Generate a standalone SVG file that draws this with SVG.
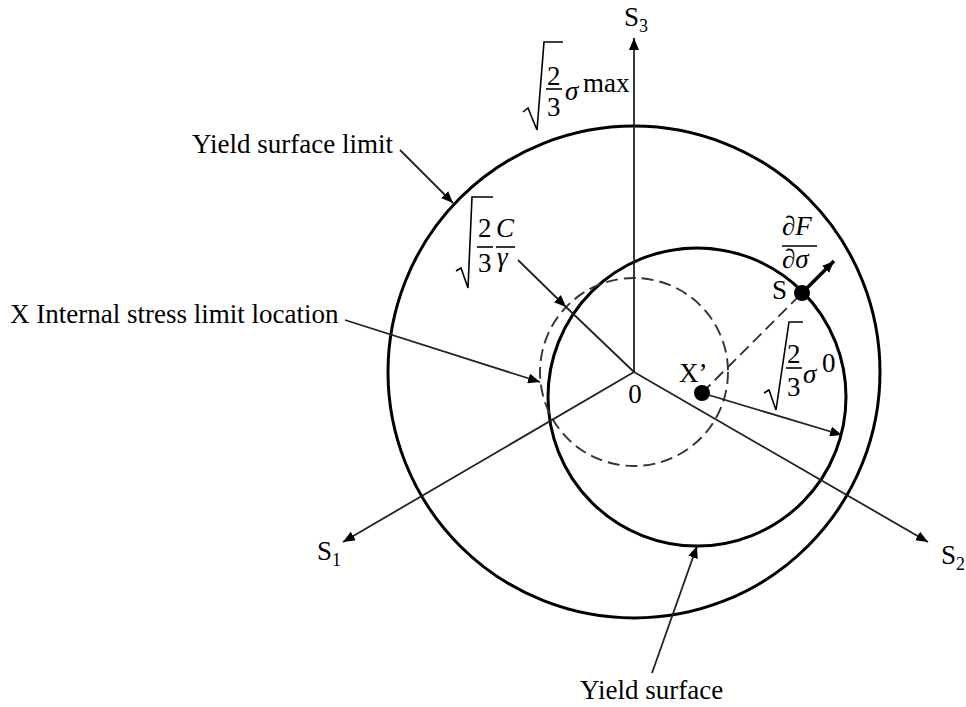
<svg xmlns="http://www.w3.org/2000/svg" width="966" height="707" viewBox="0 0 966 707">
<style>
text{font-family:"Liberation Serif","Times New Roman",serif;font-size:27px;fill:#000}
.it{font-style:italic}
.sub{font-size:18px}
.ln{stroke:#222;stroke-width:1.8;fill:none}
.thick{stroke:#000;stroke-width:3;fill:none}
.dash{stroke:#333;stroke-width:1.9;fill:none;stroke-dasharray:12 6}
.bar{stroke:#000;stroke-width:1.6}
</style>
<defs>
<marker id="ah" viewBox="0 0 12 10" refX="12" refY="5" markerWidth="12" markerHeight="10" markerUnits="userSpaceOnUse" orient="auto">
<path d="M0,0 L12,5 L0,10 z" fill="#000"/>
</marker>
</defs>
<rect width="966" height="707" fill="#fff"/>

<g id="outer-circle"><circle cx="634" cy="372" r="246" class="thick"/></g>
<g id="inner-circle"><circle cx="697" cy="397" r="149" class="thick"/></g>
<g id="dashed-circle"><circle cx="634" cy="372" r="94" class="dash"/></g>

<g id="connectors">
<line x1="634" y1="372" x2="634" y2="38" class="ln" marker-end="url(#ah)"/>
<line x1="634" y1="372" x2="343" y2="542" class="ln" marker-end="url(#ah)"/>
<line x1="634" y1="372" x2="928" y2="542" class="ln" marker-end="url(#ah)"/>
<line x1="400" y1="150" x2="453" y2="203" class="ln" marker-end="url(#ah)"/>
<line x1="345" y1="320" x2="540" y2="382" class="ln" marker-end="url(#ah)"/>
<line x1="518" y1="260" x2="566" y2="307" class="ln" marker-end="url(#ah)"/>
<line x1="566" y1="307" x2="634" y2="372" class="ln"/>
<line x1="652" y1="673" x2="697" y2="546" class="ln" marker-end="url(#ah)"/>
<line x1="702" y1="393" x2="842" y2="435" class="ln" marker-end="url(#ah)"/>
<line x1="702" y1="393" x2="802" y2="293" class="dash"/>
<line x1="802" y1="293" x2="834" y2="261" stroke="#000" stroke-width="3.5" marker-end="url(#ah)"/>
</g>

<g id="point-X">
<circle cx="702" cy="393" r="8" fill="#000"/>
<text x="679" y="382">X’</text>
</g>
<g id="point-S">
<circle cx="802" cy="293" r="8" fill="#000"/>
<text x="772" y="299">S</text>
</g>
<g id="origin"><text x="635" y="403" text-anchor="middle">0</text></g>

<g id="label-S3"><text x="624" y="26">S<tspan class="sub" dy="6">3</tspan></text></g>
<g id="label-S1"><text x="317" y="560">S<tspan class="sub" dy="6">1</tspan></text></g>
<g id="label-S2"><text x="941" y="564">S<tspan class="sub" dy="6">2</tspan></text></g>

<g id="label-yield-limit"><text x="192" y="153">Yield surface limit</text></g>
<g id="label-internal"><text x="10" y="323">X Internal stress limit location</text></g>
<g id="label-yield"><text x="580" y="699">Yield surface</text></g>

<g id="label-sigma-max">
<path d="M523,112 L528,108 L537,130 L544,42 L563,42" class="bar" fill="none"/>
<text x="547" y="85">2</text>
<line x1="546" y1="89" x2="562" y2="89" class="bar"/>
<text x="547" y="116">3</text>
<text x="565" y="100" class="it">σ</text>
<text x="583" y="92">max</text>
</g>

<g id="label-C-gamma">
<path d="M456,271 L461,268 L468,288 L472,197 L493,197" class="bar" fill="none"/>
<text x="478" y="237">2</text>
<line x1="477" y1="247" x2="493" y2="247" class="bar"/>
<text x="478" y="272">3</text>
<text x="496" y="237" class="it">C</text>
<line x1="496" y1="247" x2="515" y2="247" class="bar"/>
<text x="497" y="266" class="it">γ</text>
</g>

<g id="label-sigma0">
<path d="M764,393 L769,390 L776,410 L789,322 L803,322" class="bar" fill="none"/>
<text x="787" y="363">2</text>
<line x1="786" y1="368" x2="802" y2="368" class="bar"/>
<text x="787" y="396">3</text>
<text x="803" y="383" class="it">σ</text>
<text x="822" y="372">0</text>
</g>

<g id="label-dF">
<text x="782" y="235" class="it">∂F</text>
<line x1="782" y1="246" x2="817" y2="246" class="bar"/>
<text x="782" y="268" class="it">∂σ</text>
</g>
</svg>
